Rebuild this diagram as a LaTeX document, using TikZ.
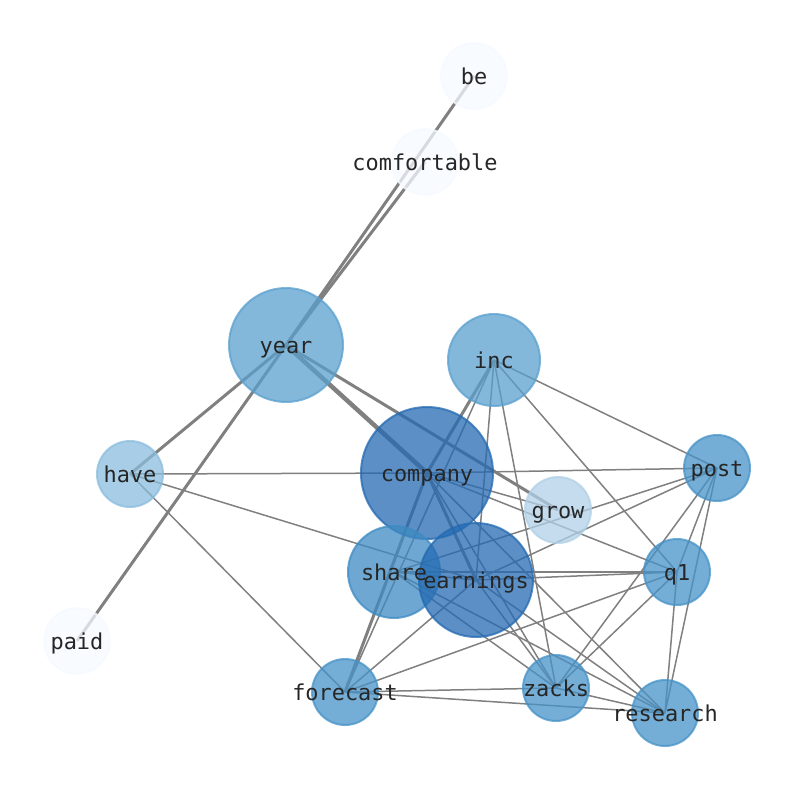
\documentclass[tikz,border=0pt]{standalone}
\usepackage{fontspec}
\setmonofont{DejaVu Sans Mono}
\usetikzlibrary{backgrounds}

\definecolor{cdark}{RGB}{36,106,178}
\definecolor{cmid}{RGB}{62,138,194}
\definecolor{cpost}{RGB}{70,146,199}
\definecolor{cyear}{RGB}{90,160,206}
\definecolor{chave}{RGB}{138,189,221}
\definecolor{cgrow}{RGB}{176,208,231}
\definecolor{cpale}{RGB}{245,250,255}

\begin{document}
\begin{tikzpicture}[x=1pt,y=-1pt,
  word/.style={circle,draw=#1,fill=#1,line width=2pt,fill opacity=0.75,draw opacity=0.75,inner sep=0pt},
  lbl/.style={font=\ttfamily\fontsize{21.9}{24}\selectfont,text=black!85,inner sep=0pt,text height=16.6pt,text depth=5.2pt,yshift=-2.5pt},
  edge/.style={draw=gray,line width=1.5pt},
  heavy/.style={draw=gray,line width=3pt}]
\useasboundingbox (0,0) rectangle (794,790);

% Draw the word circles
\foreach \n/\x/\y/\r/\c in {be/474/76/33/cpale,comfortable/425/162/33/cpale,paid/77/641/33/cpale,
    year/286/345/57/cyear,inc/494/360/46/cyear,have/130/474/33/chave,grow/558/510/33/cgrow,
    post/717/468/33/cpost,q1/677/572/33/cpost,forecast/345/692/33/cpost,zacks/556/688/33/cpost,
    research/665/713/33/cpost,company/427/473/66/cdark,share/394/572/46/cmid,earnings/476/580/57/cdark}
    \node[word=\c,minimum size=2*\r] (\n) at (\x,\y) {};

% Draw the edges behind the circles
\begin{pgfonlayer}{background}
\foreach \a/\b in {year/be,year/comfortable,year/paid,year/have,year/grow,inc/company,company/earnings,company/forecast}
    \draw[heavy] (\a.center) -- (\b.center);
\draw[draw=gray,line width=4.5pt] (year.center) -- (company.center);
\foreach \a/\b in {have/company,have/earnings,have/forecast,
    inc/forecast,inc/earnings,inc/zacks,inc/q1,inc/post,
    company/post,company/grow,company/q1,company/zacks,company/research,
    share/earnings,share/q1,share/post,share/zacks,share/research,
    earnings/q1,earnings/post,earnings/zacks,earnings/research,earnings/forecast,
    forecast/zacks,forecast/research,forecast/q1,
    q1/post,q1/zacks,q1/research,post/zacks,post/research,zacks/research}
    \draw[edge] (\a.center) -- (\b.center);
\end{pgfonlayer}

% Draw the words on top
\foreach \n in {be,comfortable,paid,year,inc,have,grow,post,q1,forecast,zacks,research,company,share,earnings}
    \node[lbl] at (\n.center) {\n};
\end{tikzpicture}
\end{document}
